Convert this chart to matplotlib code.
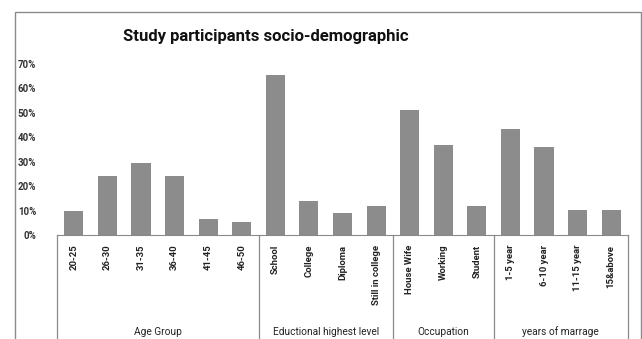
import matplotlib.pyplot as plt
import matplotlib.transforms as mtransforms
from matplotlib.patches import Rectangle
from matplotlib.ticker import PercentFormatter

plt.rcParams['font.family'] = ['Roboto', 'DejaVu Sans']

# categories and shares (fraction of participants)
age_labels = ['20-25', '26-30', '31-35', '36-40', '41-45', '46-50']
age_vals = [0.099, 0.241, 0.294, 0.241, 0.064, 0.053]
edu_labels = ['School', 'College', 'Diploma', 'Still in college']
edu_vals = [0.655, 0.138, 0.090, 0.117]
occ_labels = ['House Wife', 'Working', 'Student']
occ_vals = [0.510, 0.370, 0.117]
mar_labels = ['1-5 year', '6-10 year', '11-15 year', '15&above']
mar_vals = [0.434, 0.359, 0.102, 0.102]
group_names = ['Age Group', 'Eductional highest level', 'Occupation', 'years of marrage']

groups = [(age_labels, age_vals), (edu_labels, edu_vals),
          (occ_labels, occ_vals), (mar_labels, mar_vals)]
labels = [l for g in groups for l in g[0]]
values = [v for g in groups for v in g[1]]
x = list(range(len(values)))

fig = plt.figure(figsize=(6.42, 3.39), dpi=100)
fig.patches.append(Rectangle((15/642, -0.1), 626/642, 1.1 - 12/339, transform=fig.transFigure,
                             fill=False, edgecolor='#8a8a8a', linewidth=1.0))

ax = fig.add_axes([57/642, (339-235)/339, 571/642, 171/339])
ax.bar(x, values, width=0.57, color='#8c8c8c')
ax.set_xlim(-0.5, len(values) - 0.5)
ax.set_ylim(0, 0.7)
ax.set_yticks([i/10 for i in range(8)])
ax.yaxis.set_major_formatter(PercentFormatter(1.0, decimals=0))
for s in ['top', 'right', 'left']:
    ax.spines[s].set_visible(False)
ax.spines['bottom'].set_color('#8a8a8a')
ax.tick_params(axis='y', length=0, pad=15, labelsize=7)
for t in ax.get_yticklabels():
    t.set_fontweight('bold')
    t.set_color('#333333')
ax.set_xticks(x)
ax.set_xticklabels(labels, rotation=90, fontsize=6.8, fontweight='bold', color='#222222')
ax.tick_params(axis='x', length=0, pad=7)

fig.text(266/642, 1 - 37/339, 'Study participants socio-demographic', fontsize=12,
         fontweight='bold', ha='center', va='center', color='#111111')

# group separators and group names under the axis
trans = mtransforms.blended_transform_factory(ax.transData, fig.transFigure)
zero_y = (339-235)/339
start = -0.5
for (lbls, vals), name in zip(groups, group_names):
    end = start + len(lbls)
    ax.plot([start, start], [0, zero_y], transform=trans, color='#8a8a8a',
            linewidth=0.9, clip_on=False)
    ax.text((start + end) / 2, 7/339, name, transform=trans, ha='center', va='center',
            fontsize=7.3, color='#222222')
    start = end
ax.plot([start, start], [0, zero_y], transform=trans, color='#8a8a8a',
        linewidth=0.9, clip_on=False)

fig.savefig('out.png', dpi=100)
